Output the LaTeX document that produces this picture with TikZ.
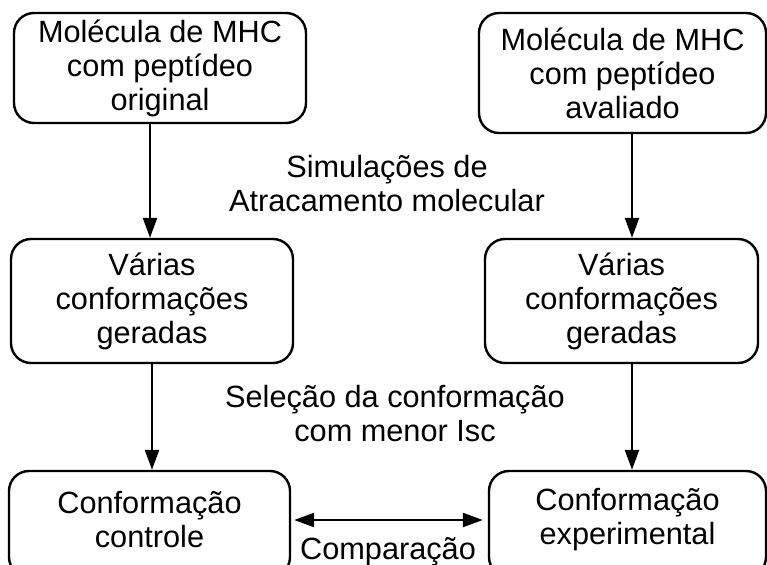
\documentclass[tikz,border=0pt]{standalone}
\usepackage{fontspec}
\setmainfont{Liberation Sans}
\usetikzlibrary{arrows.meta}
\tikzset{
  box/.style={draw=black, line width=2.4pt, rounded corners=20pt, fill=white, align=center, inner sep=0pt, font=\fontsize{30.7}{34}\selectfont},
  lbl/.style={align=center, inner sep=0pt, font=\fontsize{30.7}{34}\selectfont},
  arr/.style={line width=2.4pt, -{Triangle[length=20pt,width=14pt]}},
  darr/.style={line width=2.4pt, {Triangle[length=20pt,width=14pt]}-{Triangle[length=20pt,width=14pt]}}
}
\begin{document}
\begin{tikzpicture}[x=1pt,y=-1pt]
\useasboundingbox (0,0) rectangle (767,564);
\node[box, minimum width=292pt, minimum height=110pt] (b1) at (160,68) {Molécula de MHC\\com peptídeo\\original};
\node[box, minimum width=287pt, minimum height=120pt] (b2) at (622.5,73) {Molécula de MHC\\com peptídeo\\avaliado};
\node[box, minimum width=282pt, minimum height=124pt] (b3) at (152,301) {Várias\\conformações\\geradas};
\node[box, minimum width=273pt, minimum height=124pt] (b4) at (621.5,301) {Várias\\conformações\\geradas};
\node[box, minimum width=281pt, minimum height=106pt] (b5) at (149.5,524) {};
\node[box, minimum width=277pt, minimum height=106pt] (b6) at (627.5,524) {};
\node[lbl] (t5) at (149.5,520) {Conformação\\controle};
\node[lbl] (t6) at (627.5,520) {Conformação\\experimental};
\node[lbl] (s1) at (387,184) {Simulações de\\Atracamento molecular};
\node[lbl] (s2) at (395,414) {Seleção da conformação\\com menor Isc};
\node[lbl] (s3) at (388,552) {Comparação};
\draw[arr] (b1.south -| 150,0) -- (b3.north -| 150,0);
\draw[arr] (b2.south -| 632,0) -- (b4.north -| 632,0);
\draw[arr] (b3.south -| 152,0) -- (b5.north -| 152,0);
\draw[arr] (b4.south -| 632,0) -- (b6.north -| 632,0);
\draw[darr] (b5.east |- 0,520) ++(3,0) coordinate (c1) -- ([xshift=-5pt]b6.west |- 0,520);
\end{tikzpicture}
\end{document}
